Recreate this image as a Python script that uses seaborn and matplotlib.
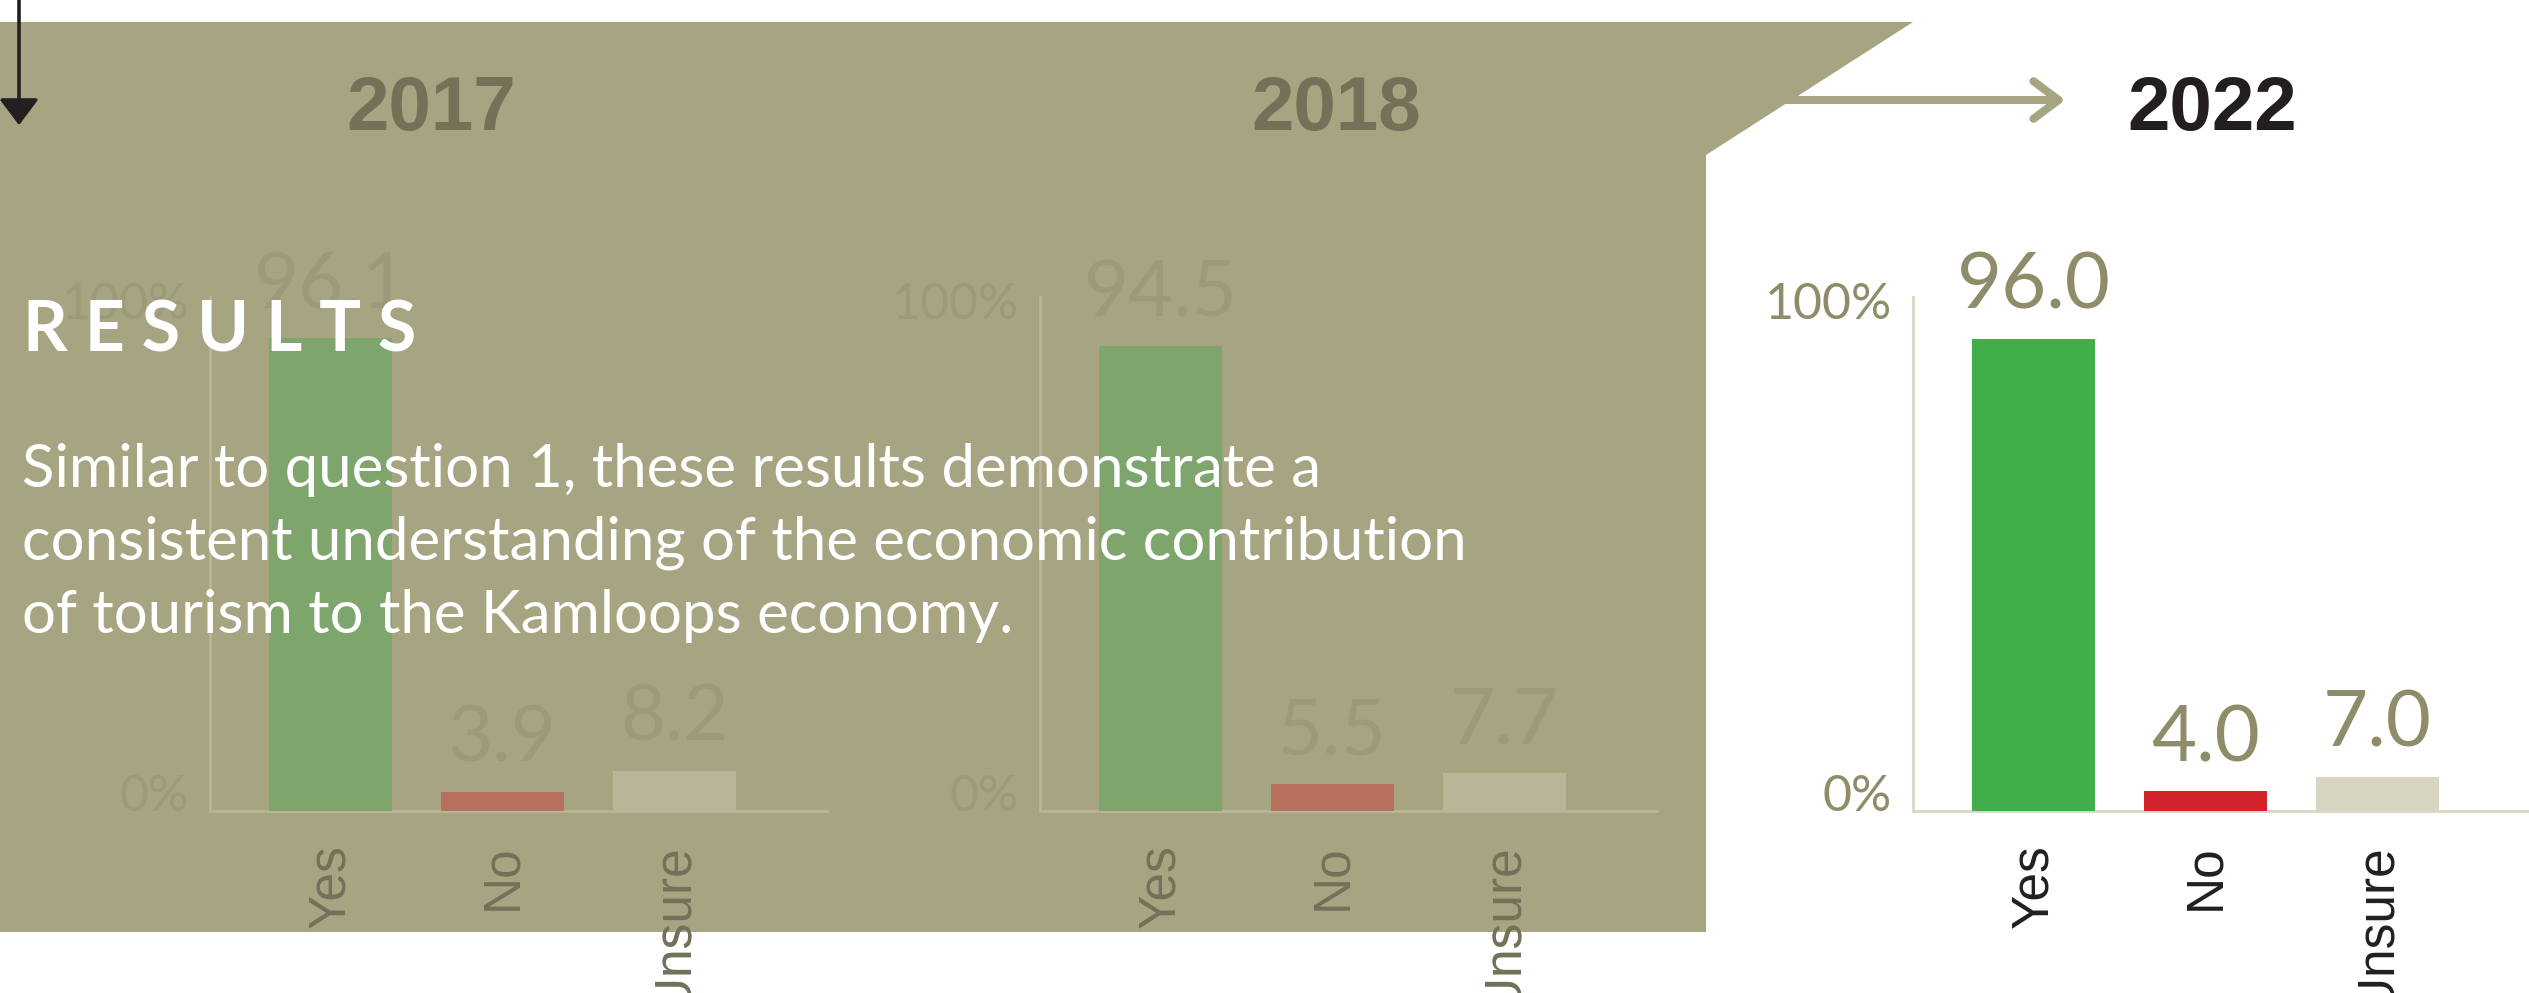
import matplotlib
matplotlib.use("Agg")
import matplotlib.pyplot as plt
import seaborn as sns
import pandas as pd
from matplotlib.patches import Polygon

# ---------------- data ----------------
categories = ["Yes", "No", "Unsure"]
years = ["2017", "2018", "2022"]
values_2017 = [96.1, 3.9, 8.2]
values_2018 = [94.5, 5.5, 7.7]
values_2022 = [96.0, 4.0, 7.0]
y_ticks = [0, 100]
y_tick_labels = ["0%", "100%"]
heading = "RESULTS"
body_lines = [
    "Similar to question 1, these results demonstrate a",
    "consistent understanding of the economic contribution",
    "of tourism to the Kamloops economy.",
]

# ---------------- style ----------------
sns.set_theme(style="white")
plt.rcParams["font.family"] = ["Lato", "DejaVu Sans"]

W, H, DPI = 2529, 993, 100
fig = plt.figure(figsize=(W / DPI, H / DPI), dpi=DPI)
fig.patch.set_facecolor("white")


def fx(x):
    return x / W


def fy(y):
    return 1 - y / H


POLY = "#a7a482"
faded = dict(
    bars=["#7ea66c", "#b76f5e", "#bab599"],
    values="#9d9a7b", ticks="#9d9a7b", spine="#bab599", xlab="#737258",
)
bright = dict(
    bars=["#40ae49", "#d2232a", "#d8d5c3"],
    values="#8e8c69", ticks="#8e8c69", spine="#d9d6c6", xlab="#231f20",
)

# background polygon (olive panel)
poly = Polygon(
    [(fx(0), fy(22)), (fx(1913), fy(22)), (fx(1706), fy(155)),
     (fx(1706), fy(932)), (fx(0), fy(932))],
    closed=True, transform=fig.transFigure, facecolor=POLY,
    edgecolor="none", zorder=-5,
)
fig.add_artist(poly)

# right arrow (olive) toward 2022
fig.add_artist(matplotlib.patches.FancyArrowPatch(
    (fx(1740), fy(100)), (fx(2068), fy(100)), transform=fig.transFigure,
    arrowstyle="->,head_length=0.4,head_width=0.3", mutation_scale=45,
    color=POLY, lw=5.8, capstyle="round", joinstyle="round", zorder=-4,
))
# down arrow (dark) at top-left
fig.add_artist(matplotlib.patches.FancyArrowPatch(
    (fx(19), fy(-5)), (fx(19), fy(128)), transform=fig.transFigure,
    arrowstyle="-|>,head_length=0.4,head_width=0.3", mutation_scale=40,
    color="#231f20", lw=2.6, zorder=10,
))

# ---------------- charts ----------------
XMIN, XMAX = -0.70, 2.89
UNIT = 172.0
AX_W = (XMAX - XMIN) * UNIT
AX_TOP, AX_BOT = 297, 811
chart_specs = [
    (values_2017, 210, faded, 431, "2017"),
    (values_2018, 1040, faded, 1336, "2018"),
    (values_2022, 1913, bright, 2212, "2022"),
]

for vals, left, st, title_x, yr in chart_specs:
    ax = fig.add_axes([fx(left), fy(AX_BOT), AX_W / W, (AX_BOT - AX_TOP) / H])
    ax.set_facecolor("none")
    df = pd.DataFrame({"category": categories, "value": vals})
    sns.barplot(data=df, x="category", y="value", hue="category",
                order=categories, hue_order=categories,
                palette=dict(zip(categories, st["bars"])),
                saturation=1, width=0.715, dodge=False, legend=False, ax=ax,
                linewidth=0, edgecolor="none", zorder=3)
    ax.set_xlim(XMIN, XMAX)
    ax.set_ylim(0, 104.5)
    ax.set_xlabel("")
    ax.set_ylabel("")
    for s in ["top", "right"]:
        ax.spines[s].set_visible(False)
    for s in ["left", "bottom"]:
        ax.spines[s].set_color(st["spine"])
        ax.spines[s].set_linewidth(2.0)
        ax.spines[s].set_zorder(1)
    ax.set_yticks(y_ticks)
    ax.set_yticklabels(y_tick_labels)
    ax.tick_params(axis="y", length=0, pad=15, labelsize=36,
                   labelcolor=st["ticks"])
    for lab in ax.get_yticklabels():
        lab.set_va("baseline")
        lab.set_color(st["ticks"])
    ax.tick_params(axis="x", length=0, pad=24, labelsize=37,
                   labelrotation=90, labelcolor=st["xlab"])
    for lab in ax.get_xticklabels():
        lab.set_fontfamily(["Liberation Sans", "DejaVu Sans"])
    # value labels
    for i, v in enumerate(vals):
        ax.annotate(f"{v:.1f}", xy=(i, v), xytext=(0, 21.5),
                    textcoords="offset points", ha="center", va="baseline",
                    fontsize=56, color=st["values"], zorder=4)
    if st is faded:
        # labels inside the olive panel are dark; the part running out of it is grey
        for tick in ax.xaxis.get_major_ticks():
            tick.label1.set_clip_path(poly)
        offs = matplotlib.transforms.ScaledTranslation(0, -24 / 72, fig.dpi_scale_trans)
        for i, c in enumerate(categories):
            ax.text(i, 0, c, transform=ax.get_xaxis_transform() + offs,
                    rotation=90, ha="center", va="top", fontsize=37,
                    family=["Liberation Sans", "DejaVu Sans"],
                    color="#a6a6a6", zorder=0, clip_on=False)
        title_color = "#737258"
    else:
        title_color = "#231f20"
    fig.text(fx(title_x), fy(130), yr, ha="center", va="baseline",
             fontsize=55, fontweight="bold", color=title_color,
             family=["Liberation Sans", "DejaVu Sans"], zorder=6)

# ---------------- overlay text ----------------
renderer = fig.canvas.get_renderer()


def fit(t, target_w):
    bb = t.get_window_extent(renderer)
    t.set_fontsize(t.get_fontsize() * target_w / bb.width)
    return t.get_fontsize()


head = fig.text(fx(23), fy(351), " ".join(heading), ha="left", va="baseline",
                fontsize=50, fontweight="bold", color="white", zorder=20)
fit(head, 393)

body_texts = []
baselines = [487, 560, 633]
for line, b in zip(body_lines, baselines):
    body_texts.append(fig.text(fx(22), fy(b), line, ha="left", va="baseline",
                               fontsize=40, color="white", zorder=20))
size = fit(body_texts[1], 1443)
for t in body_texts:
    t.set_fontsize(size)

fig.savefig("out.png", dpi=DPI, facecolor="white")
